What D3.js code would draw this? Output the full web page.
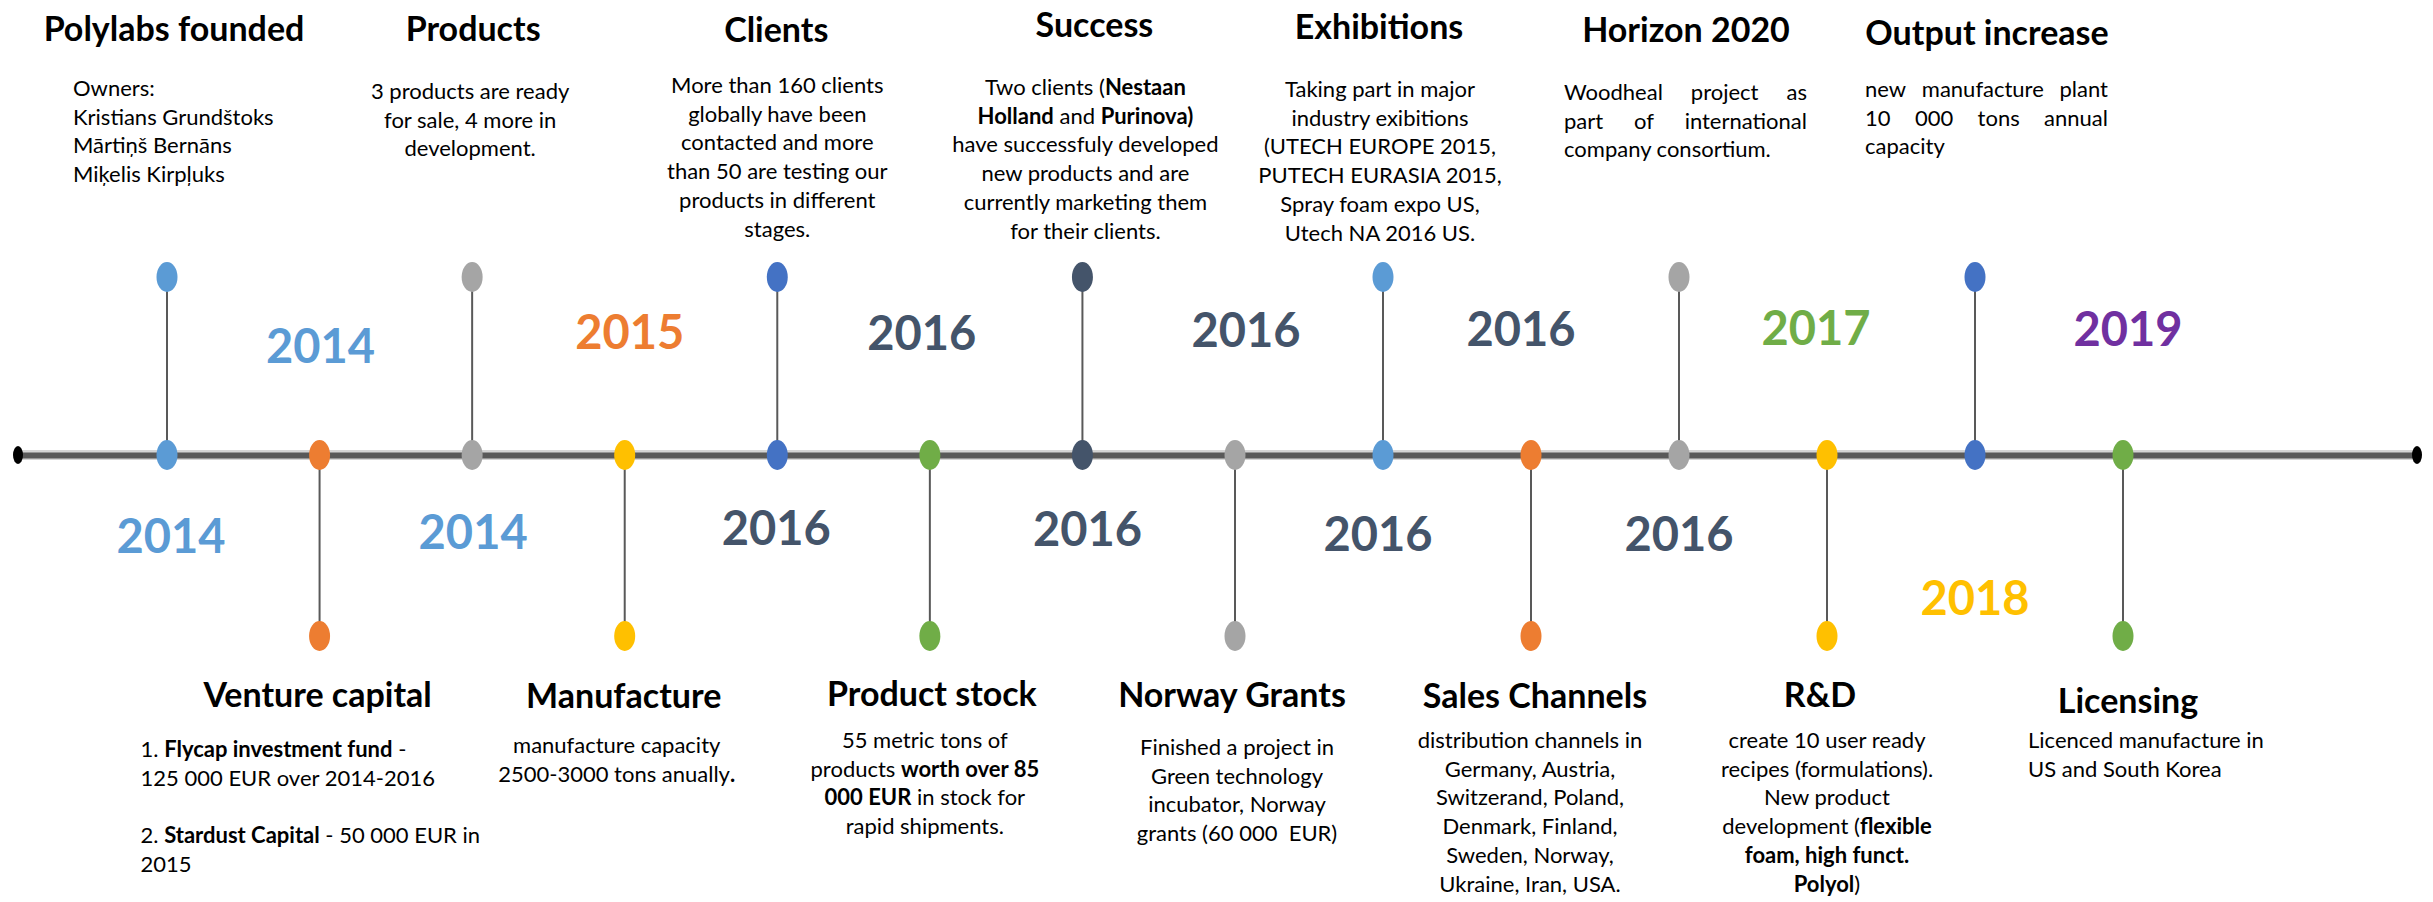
<!DOCTYPE html>
<html>
<head>
<meta charset="utf-8">
<title>Polylabs timeline</title>
<script src="https://cdn.jsdelivr.net/npm/d3@7"></script>
<style>
  body { margin: 0; background: #fff; }
  svg text { font-family: Lato, "Open Sans", sans-serif; fill: #000; }
</style>
</head>
<body>
<div id="chart"></div>
<script>
// timeline events, left to right; even index sits above the axis, odd below
const titles = ['Polylabs founded', 'Venture capital', 'Products', 'Manufacture', 'Clients', 'Product stock', 'Success',
  'Norway Grants', 'Exhibitions', 'Sales Channels', 'Horizon 2020', 'R&D', 'Output increase', 'Licensing'];
const years = [2014, 2014, 2014, 2015, 2016, 2016, 2016, 2016, 2016, 2016, 2016, 2017, 2018, 2019];
// ** marks bold runs
const bodies = [
  ['Owners:', 'Kristians Grundštoks', 'Mārtiņš Bernāns', 'Miķelis Kirpļuks'],
  ['1. **Flycap investment fund** -', '125 000 EUR over 2014-2016', '', '2. **Stardust Capital** - 50 000 EUR in', '2015'],
  ['3 products are ready', 'for sale, 4 more in', 'development.'],
  ['manufacture capacity', '2500-3000 tons anually**.**'],
  ['More than 160 clients', 'globally have been', 'contacted and more', 'than 50 are testing our', 'products in different', 'stages.'],
  ['55 metric tons of', 'products **worth over 85**', '**000 EUR** in stock for', 'rapid shipments.'],
  ['Two clients (**Nestaan**', '**Holland** and **Purinova)**', 'have successfuly developed', 'new products and are', 'currently marketing them', 'for their clients.'],
  ['Finished a project in', 'Green technology', 'incubator, Norway', 'grants (60 000  EUR)'],
  ['Taking part in major', 'industry exibitions', '(UTECH EUROPE 2015,', 'PUTECH EURASIA 2015,', 'Spray foam expo US,', 'Utech NA 2016 US.'],
  ['distribution channels in', 'Germany, Austria,', 'Switzerand, Poland,', 'Denmark, Finland,', 'Sweden, Norway,', 'Ukraine, Iran, USA.'],
  ['Woodheal project as', 'part of international', 'company consortium.'],
  ['create 10 user ready', 'recipes (formulations).', 'New product', 'development (**flexible**', '**foam, high funct.**', '**Polyol**)'],
  ['new manufacture plant', '10 000 tons annual', 'capacity'],
  ['Licenced manufacture in', 'US and South Korea']
];

// styles
const markerColors = ['#5B9BD5', '#ED7D31', '#A5A5A5', '#FFC000', '#4472C4', '#70AD47', '#44546A',
  '#A5A5A5', '#5B9BD5', '#ED7D31', '#A5A5A5', '#FFC000', '#4472C4', '#70AD47'];
const yearColor = d3.scaleOrdinal()
  .domain([2014, 2015, 2016, 2017, 2018, 2019])
  .range(['#5B9BD5', '#ED7D31', '#44546A', '#70AD47', '#FFC000', '#7030A0']);

// hand layout of the text blocks (offsets from the event's axis position)
const bodyAlign = ['start', 'start', 'middle', 'middle', 'middle', 'middle', 'middle', 'middle', 'middle', 'middle', 'justify', 'middle', 'justify', 'start'];
const bodyDx = [-94, -179, -2, -8, 0, -5, 3, 2, -3, -1, -115, 0, -110, -95];
const titleDx = [7, -2, 1, -1, -1, 2, 12, -3, -4, 4, 7, -7, 12, 5];
const titleY = [41, 707, 41, 708, 42, 706, 37, 707, 39, 708, 42, 707, 45, 713];
const bodyY = [96, 757, 99, 753, 93, 748, 95, 755, 97, 748, 100, 748, 97, 748];
const yearY = [553, 363, 549, 349, 545, 350, 546, 347, 551, 346, 551, 345, 615, 346];
const yearDx = [4, 1, 1, 5, -1, -8, 5, 11, -5, -10, 0, -11, 0, 5];
const justifyWidth = 243;
const lineHeight = 28.7;

const width = 2433, height = 902;
const axisY = 455, topDotY = 277, bottomDotY = 636;

const svg = d3.select('#chart').append('svg')
  .attr('width', width)
  .attr('height', height);

const x = d3.scaleLinear().domain([0, 7, 13]).range([167, 1235, 2123]);
const idx = d3.range(titles.length);
const isTop = i => i % 2 === 0;

// axis bar
svg.append('line')
  .attr('x1', 18).attr('x2', 2417).attr('y1', axisY).attr('y2', axisY)
  .attr('stroke', '#d4d4d4').attr('stroke-width', 10);
svg.append('line')
  .attr('x1', 18).attr('x2', 2417).attr('y1', axisY + 0.5).attr('y2', axisY + 0.5)
  .attr('stroke', '#595959').attr('stroke-width', 6);
svg.selectAll('.end').data([18, 2417]).enter()
  .append('ellipse')
  .attr('cx', d => d).attr('cy', axisY)
  .attr('rx', 5).attr('ry', 9)
  .attr('fill', '#000');

// stems
svg.selectAll('.stem').data(idx).enter()
  .append('line')
  .attr('x1', i => x(i)).attr('x2', i => x(i))
  .attr('y1', axisY).attr('y2', i => isTop(i) ? topDotY : bottomDotY)
  .attr('stroke', '#595959').attr('stroke-width', 2);

// end markers and axis markers
svg.selectAll('.tip').data(idx).enter()
  .append('ellipse')
  .attr('cx', i => x(i)).attr('cy', i => isTop(i) ? topDotY : bottomDotY)
  .attr('rx', 10.5).attr('ry', 15)
  .attr('fill', i => markerColors[i]);
svg.selectAll('.node').data(idx).enter()
  .append('ellipse')
  .attr('cx', i => x(i)).attr('cy', axisY)
  .attr('rx', 10.5).attr('ry', 15)
  .attr('fill', i => markerColors[i]);

// years on the opposite side of the axis
svg.selectAll('.year').data(idx).enter()
  .append('text')
  .attr('x', i => x(i) + yearDx[i])
  .attr('y', i => yearY[i])
  .attr('text-anchor', 'middle')
  .style('font-size', '47px')
  .style('font-weight', 700)
  .style('fill', i => yearColor(years[i]))
  .text(i => years[i]);

// titles
svg.selectAll('.title').data(idx).enter()
  .append('text')
  .attr('x', i => x(i) + titleDx[i])
  .attr('y', i => titleY[i])
  .attr('text-anchor', 'middle')
  .style('font-size', '34px')
  .style('font-weight', 700)
  .text(i => titles[i]);

// body text
idx.forEach(i => {
  const x0 = x(i) + bodyDx[i];
  const lines = bodies[i];
  lines.forEach((line, k) => {
    const y = bodyY[i] + k * lineHeight;
    if (!line) return;
    if (bodyAlign[i] === 'justify' && k < lines.length - 1) {
      const words = line.split(/\s+/);
      const g = svg.append('g');
      const ts = words.map(w => g.append('text').attr('y', y).style('font-size', '22px').text(w));
      const lens = ts.map(t => t.node().getComputedTextLength());
      const gap = (justifyWidth - d3.sum(lens)) / (words.length - 1);
      let cx = x0;
      ts.forEach((t, j) => { t.attr('x', cx); cx += lens[j] + gap; });
      return;
    }
    const t = svg.append('text')
      .attr('x', x0).attr('y', y)
      .attr('text-anchor', bodyAlign[i] === 'middle' ? 'middle' : 'start')
      .style('font-size', '22px')
      .attr('xml:space', 'preserve')
      .style('white-space', 'pre');
    line.split('**').forEach((part, j) => {
      if (!part) return;
      t.append('tspan')
        .style('font-weight', j % 2 ? 700 : 400)
        .text(part);
    });
  });
});
</script>
</body>
</html>
